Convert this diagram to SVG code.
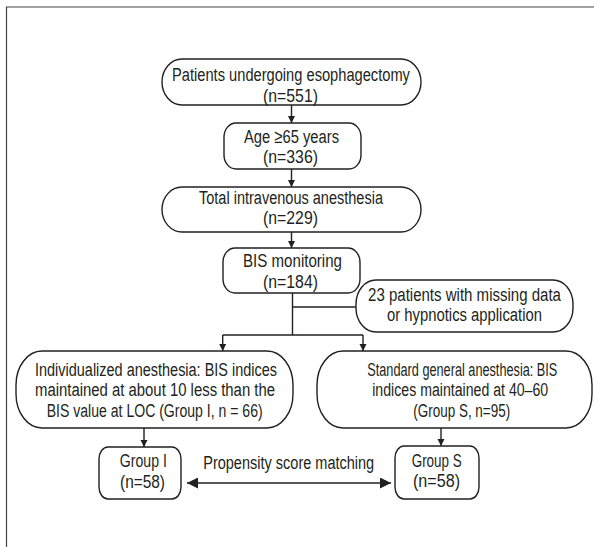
<svg xmlns="http://www.w3.org/2000/svg" width="594" height="547" viewBox="0 0 594 547">
<style>
.b{fill:#fff;stroke:#231f20;stroke-width:1.4}
.t{font-family:"Liberation Sans",Arial,sans-serif;font-size:19px;fill:#231f20;text-anchor:middle}
.c{fill:none;stroke:#231f20;stroke-width:1.4}
</style>
<defs>
<marker id="a" viewBox="0 0 10 10" refX="10" refY="5" markerWidth="7" markerHeight="9" markerUnits="userSpaceOnUse" orient="auto"><path d="M0,0L10,5L0,10z" fill="#231f20"/></marker>
<marker id="d" viewBox="0 0 10 10" refX="10" refY="5" markerWidth="11" markerHeight="11" markerUnits="userSpaceOnUse" orient="auto-start-reverse"><path d="M0,0L10,5L0,10z" fill="#231f20"/></marker>
</defs>
<rect width="594" height="547" fill="#fff"/>
<path d="M6.5,547V7H594" fill="none" stroke="#444" stroke-width="1.2"/>
<g id="connectors">
<path class="c" d="M291.5,105V123" marker-end="url(#a)"/>
<path class="c" d="M291.5,169V187" marker-end="url(#a)"/>
<path class="c" d="M291.5,232V248" marker-end="url(#a)"/>
<path class="c" d="M292.5,293V335"/>
<path class="c" d="M292.5,307H356"/>
<path class="c" d="M222.7,335H363"/>
<path class="c" d="M222.7,335V351" marker-end="url(#a)"/>
<path class="c" d="M363,335V351" marker-end="url(#a)"/>
<path class="c" d="M144,428V447" marker-end="url(#a)"/>
<path class="c" d="M441,428V446" marker-end="url(#a)"/>
<path class="c" d="M187,483H391" marker-start="url(#d)" marker-end="url(#d)"/>
</g>
<g id="n1"><rect class="b" x="162" y="59" width="259" height="46" rx="20" ry="23"/>
<text class="t" transform="translate(291,80.5) scale(0.78,1)" textLength="305" lengthAdjust="spacingAndGlyphs">Patients undergoing esophagectomy</text>
<text class="t" transform="translate(290.5,101.5) scale(0.78,1)" textLength="70.5" lengthAdjust="spacingAndGlyphs">(n=551)</text></g>
<g id="n2"><rect class="b" x="224" y="123" width="137" height="46" rx="12" ry="14"/>
<text class="t" transform="translate(291.5,142.5) scale(0.78,1)" textLength="121.8" lengthAdjust="spacingAndGlyphs">Age ≥65 years</text>
<text class="t" transform="translate(290.5,163) scale(0.78,1)" textLength="70.5" lengthAdjust="spacingAndGlyphs">(n=336)</text></g>
<g id="n3"><rect class="b" x="162" y="187" width="259" height="45" rx="20" ry="22.5"/>
<text class="t" transform="translate(291,203.5) scale(0.78,1)" textLength="235.9" lengthAdjust="spacingAndGlyphs">Total intravenous anesthesia</text>
<text class="t" transform="translate(290.5,224) scale(0.78,1)" textLength="70.5" lengthAdjust="spacingAndGlyphs">(n=229)</text></g>
<g id="n4"><rect class="b" x="223" y="248" width="137" height="45" rx="12" ry="14"/>
<text class="t" transform="translate(292.5,266.5) scale(0.78,1)" textLength="126.9" lengthAdjust="spacingAndGlyphs">BIS monitoring</text>
<text class="t" transform="translate(290.5,287.5) scale(0.78,1)" textLength="70.5" lengthAdjust="spacingAndGlyphs">(n=184)</text></g>
<g id="n5"><rect class="b" x="356" y="280" width="217" height="52" rx="20" ry="24"/>
<text class="t" transform="translate(464.5,300.5) scale(0.78,1)" textLength="247.4" lengthAdjust="spacingAndGlyphs">23 patients with missing data</text>
<text class="t" transform="translate(464.5,320.5) scale(0.78,1)" textLength="198.7" lengthAdjust="spacingAndGlyphs">or hypnotics application</text></g>
<g id="n6"><rect class="b" x="16" y="351" width="277" height="77" rx="26" ry="34"/>
<text class="t" transform="translate(156,375.5) scale(0.78,1)" textLength="310.3" lengthAdjust="spacingAndGlyphs">Individualized anesthesia: BIS indices</text>
<text class="t" transform="translate(155,396) scale(0.78,1)" textLength="307.7" lengthAdjust="spacingAndGlyphs">maintained at about 10 less than the</text>
<text class="t" transform="translate(154.7,417) scale(0.78,1)" textLength="276.9" lengthAdjust="spacingAndGlyphs">BIS value at LOC (Group I, n = 66)</text></g>
<g id="n7"><rect class="b" x="317" y="351" width="275" height="77" rx="26" ry="34"/>
<text class="t" transform="translate(462.3,375.5) scale(0.78,1)" textLength="243.6" lengthAdjust="spacingAndGlyphs">Standard general anesthesia: BIS</text>
<text class="t" transform="translate(460.2,396) scale(0.78,1)" textLength="225.6" lengthAdjust="spacingAndGlyphs">indices maintained at 40–60</text>
<text class="t" transform="translate(461.7,417) scale(0.78,1)" textLength="124.4" lengthAdjust="spacingAndGlyphs">(Group S, n=95)</text></g>
<g id="n8"><rect class="b" x="99" y="447" width="82" height="52" rx="9" ry="12"/>
<text class="t" transform="translate(143.3,467) scale(0.78,1)" textLength="60.3" lengthAdjust="spacingAndGlyphs">Group I</text>
<text class="t" transform="translate(142.5,487.5) scale(0.78,1)" textLength="57.7" lengthAdjust="spacingAndGlyphs">(n=58)</text></g>
<g id="n9"><rect class="b" x="395" y="446" width="84" height="53" rx="9" ry="12"/>
<text class="t" transform="translate(436.7,466.5) scale(0.78,1)" textLength="64.1" lengthAdjust="spacingAndGlyphs">Group S</text>
<text class="t" transform="translate(436.5,487) scale(0.78,1)" textLength="60.3" lengthAdjust="spacingAndGlyphs">(n=58)</text></g>
<text class="t" transform="translate(288.7,469) scale(0.78,1)" textLength="219.2" lengthAdjust="spacingAndGlyphs">Propensity score matching</text>
</svg>
